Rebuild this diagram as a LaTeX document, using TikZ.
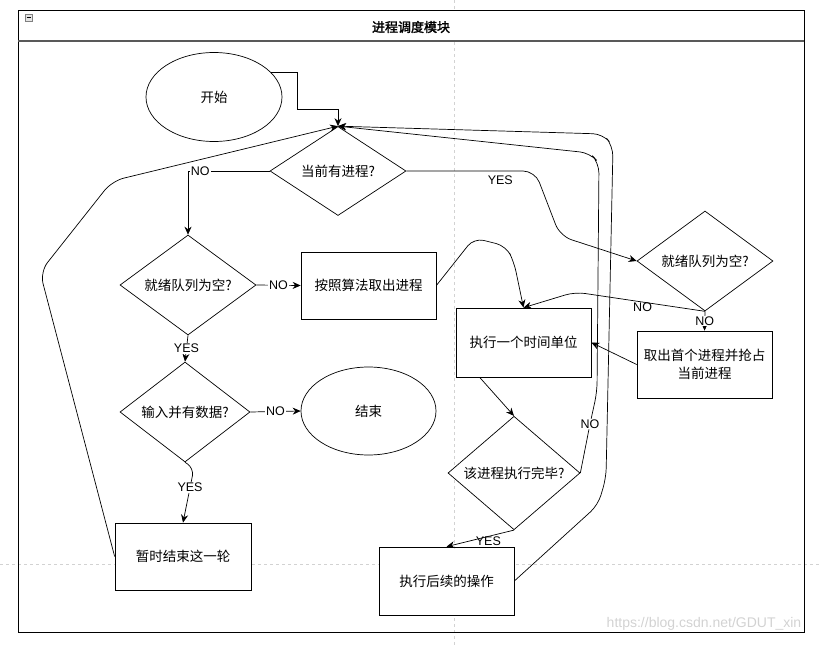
\documentclass[tikz,border=0pt]{standalone}
\usepackage{fontspec}
\setmainfont{Liberation Sans}
\newfontfamily\cjk[AutoFakeBold=2]{Noto Sans CJK SC}
\usetikzlibrary{shapes.geometric, arrows.meta}

\tikzset{
  cjktext/.style={font=\cjk\fontsize{13.5}{18}\selectfont},
  stepbox/.style={cjktext, draw, fill=white, minimum width=135pt, minimum height=67pt, inner sep=0pt, align=center},
  decision/.style={cjktext, diamond, draw, fill=white, aspect=1, inner sep=0pt, minimum width=136pt, minimum height=89pt},
  terminal/.style={cjktext, ellipse, draw, fill=white, minimum width=136pt, minimum height=89pt},
  lbltext/.style={inner sep=1pt, font=\fontsize{12.5}{14}\selectfont},
  lbl/.style={lbltext, fill=white},
  guide/.style={gray!35, dash pattern=on 3pt off 3pt, line width=0.8pt}
}

\begin{document}
\begin{tikzpicture}[x=1pt, y=-1pt, >={Stealth[length=8pt, width=7pt]}, line width=0.7pt]
        \useasboundingbox (0, 0) rectangle (822, 645);

        \draw[guide] (454, 0) to (454, 645);
        \draw[guide] (0, 564) to (822, 564);

        \draw[line width=1pt] (18, 10) rectangle (804, 632);
        \draw[fill=white, line width=1pt] (18, 10) rectangle (804, 41);
        \draw[line width=1.4pt, gray!70!black] (18, 41) to (804, 41);
        \draw[fill=gray!20, draw=gray, line width=0.5pt] (25, 14) rectangle (32, 21);
        \draw[line width=0.6pt] (26.5, 17.5) to (30.5, 17.5);
        \node[font=\cjk\bfseries\fontsize{13}{16}\selectfont] (title) at (411, 27) {进程调度模块};

        \node[terminal] (start) at (214, 97) {开始};
        \node[decision] (hasproc) at (338, 171) {当前有进程?};
        \node[decision] (emptyl) at (188, 285) {就绪队列为空?};
        \node[stepbox] (pick) at (368.5, 285.5) {按照算法取出进程};
        \node[decision, minimum width=130pt, minimum height=90pt] (input) at (185, 412) {输入并有数据?};
        \node[terminal, minimum width=135pt, minimum height=88pt] (stop) at (368.5, 411) {结束};
        \node[stepbox, minimum width=136pt] (pause) at (183, 556.5) {暂时结束这一轮};
        \node[decision] (emptyr) at (705, 261) {就绪队列为空?};
        \node[stepbox, minimum height=69pt] (run) at (523.5, 342.5) {执行一个时间单位};
        \node[stepbox] (grab) at (704.5, 364.5) {取出首个进程并抢占\\当前进程};
        \node[decision, minimum width=132pt, minimum height=90pt] (done) at (514, 473) {该进程执行完毕?};
        \node[stepbox, minimum height=68pt] (after) at (446.5, 581) {执行后续的操作};

        \draw[->] (start.23) -| (297, 109) -| (hasproc.north);
        \draw[->] (hasproc.west) -- node[lbl, pos=0.85] {NO} (188, 171) -- (emptyl.north);
        \draw[->, rounded corners=12pt]
        (hasproc.east) -- node[lbltext, pos=0.73, below=3pt] {YES} (535, 171) -- (560, 236) -- (emptyr.west);
        \draw[->] (emptyl.east) -- node[lbl] {NO} (pick.west);
        \draw[->] (emptyl.south) -- node[lbl] {YES} (input.north);
        \draw[->] (input.east) -- node[lbl] {NO} (stop.west);
        \draw[->, rounded corners=8pt]
        (input.south) -- (194, 468) -- node[lbl, pos=0.36] {YES} (pause.north);
        \draw[->, rounded corners=12pt]
        (pause.west) -- (40, 272) -- (112, 181) -- (hasproc.north);
        \draw[->, rounded corners=10pt]
        (pick.east) -- (474, 238) -- (506, 246) -- (514, 262) -- (run.north);
        \draw[->, rounded corners=10pt]
        (emptyr.south) -- node[lbltext, pos=0.48, yshift=-5pt] {NO} (575, 292) -- (run.north);
        \draw[->] (emptyr.south) -- node[lbl] {NO} (grab.north);
        \draw[->] (grab.west) -- (run.east);
        \draw[->] ([xshift=24pt]run.south west) -- (done.north);
        \draw[->, rounded corners=10pt]
        (done.east) -- (590, 424) node[lbl] {NO} -- (597, 392) -- (599, 163) -- (590, 153) -- (hasproc.north);
        \draw[->, rounded corners=10pt]
        (after.east) -- (598, 505) -- (606, 478) -- (613, 146) -- (603, 134) -- (hasproc.north);
        \draw[->] (done.south) -- node[lbltext, pos=0.38, yshift=-5pt] {YES} (after.north);

        \node[text=gray!35, font=\fontsize{14}{16}\selectfont] (mark) at (704, 624) {https://blog.csdn.net/GDUT\_xin};
    \end{tikzpicture}
\end{document}
